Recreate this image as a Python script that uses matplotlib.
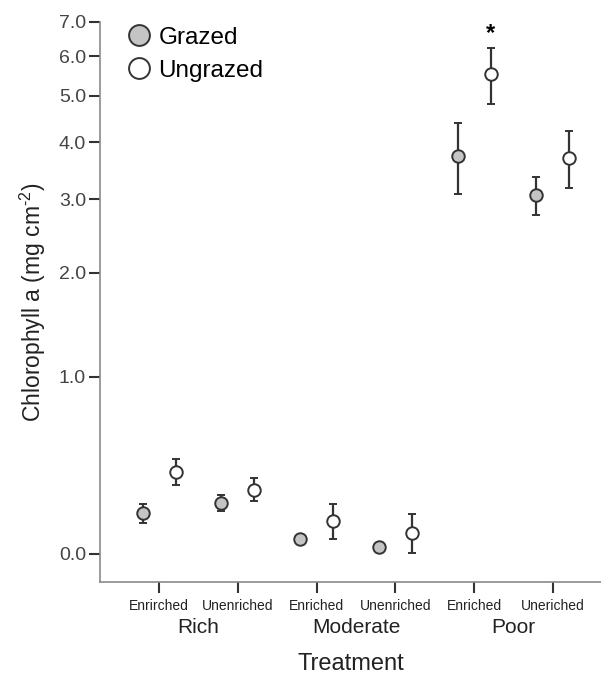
import numpy as np
import matplotlib.pyplot as plt
from matplotlib.lines import Line2D

plt.rcParams['font.family'] = ['Liberation Sans', 'DejaVu Sans']
plt.rcParams['mathtext.fontset'] = 'custom'
plt.rcParams['mathtext.rm'] = 'Liberation Sans'
plt.rcParams['mathtext.default'] = 'regular'

groups = ['Rich', 'Moderate', 'Poor']
tick_labels = ['Enrirched', 'Unenriched', 'Enriched', 'Unenriched', 'Enriched', 'Uneriched']

grazed = [0.173, 0.221, 0.059, 0.029, 3.73, 3.06]
grazed_lo = [0.130, 0.182, 0.059, 0.029, 3.08, 2.76]
grazed_hi = [0.216, 0.259, 0.059, 0.029, 4.38, 3.37]

ungrazed = [0.377, 0.286, 0.139, 0.086, 5.52, 3.70]
ungrazed_lo = [0.309, 0.231, 0.062, 0.005, 4.80, 3.18]
ungrazed_hi = [0.447, 0.343, 0.216, 0.168, 6.23, 4.23]

yticks = [0.0, 1.0, 2.0, 3.0, 4.0, 5.0, 6.0, 7.0]


def fwd(v):
    return np.log10(np.clip(np.asarray(v, dtype=float) + 1, 1e-6, None))


def inv(v):
    return 10 ** np.asarray(v, dtype=float) - 1


fig = plt.figure(figsize=(6.01, 6.76), dpi=100)
ax = fig.add_axes([0.1664, 0.139, 0.8336, 0.8286])
ax.set_yscale('function', functions=(fwd, inv))

x = np.arange(len(tick_labels))
off = 0.21
ecol = '#333333'

g = np.array(grazed)
u = np.array(ungrazed)
g_err = [g - np.array(grazed_lo), np.array(grazed_hi) - g]
u_err = [u - np.array(ungrazed_lo), np.array(ungrazed_hi) - u]

ax.errorbar(x - off, g, yerr=g_err, fmt='o', ms=9, mfc='#c4c4c4', mec=ecol, mew=1.4,
            ecolor=ecol, elinewidth=1.6, capsize=3, capthick=1.6, zorder=3)
ax.errorbar(x + off, u, yerr=u_err, fmt='o', ms=9, mfc='white', mec=ecol, mew=1.4,
            ecolor=ecol, elinewidth=1.6, capsize=3, capthick=1.6, zorder=3)

ax.text(x[4] + off, 6.65, '*', ha='center', va='center', fontsize=17, fontweight='bold')

ax.set_ylim(-0.104, 7.0)
ax.set_xlim(-0.75, 5.61)
ax.set_yticks(yticks)
ax.set_yticklabels(['%.1f' % t for t in yticks], fontsize=14, color='#444444')
ax.minorticks_off()
ax.set_xticks(x)
ax.set_xticklabels(tick_labels, fontsize=10, color='#222222')
ax.tick_params(axis='both', length=8, width=1.5, color='#333333')
ax.tick_params(axis='x', pad=4)
ax.tick_params(axis='y', pad=2)

for s in ['top', 'right']:
    ax.spines[s].set_visible(False)
for s in ['left', 'bottom']:
    ax.spines[s].set_color('#8a8a8a')
    ax.spines[s].set_linewidth(1.2)

for i, name in enumerate(groups):
    ax.text(2 * i + 0.5, -0.082, name, transform=ax.get_xaxis_transform(),
            ha='center', va='center', fontsize=15, color='#222222')

ax.set_xlabel('Treatment', fontsize=17, labelpad=29, color='#222222')
ax.set_ylabel('Chlorophyll a (mg cm$^{\\text{-2}}$)', fontsize=16.5, color='#222222', labelpad=8)

handles = [
    Line2D([], [], ls='none', marker='o', ms=15, mfc='#c4c4c4', mec=ecol, mew=1.4),
    Line2D([], [], ls='none', marker='o', ms=15, mfc='white', mec=ecol, mew=1.4),
]
ax.legend(handles, ['Grazed', 'Ungrazed'], loc='upper left', bbox_to_anchor=(0.005, 1.03),
          frameon=False, fontsize=17.5, handletextpad=0.2, labelspacing=0.45, handlelength=1.2)

fig.savefig('out.png', dpi=100)
